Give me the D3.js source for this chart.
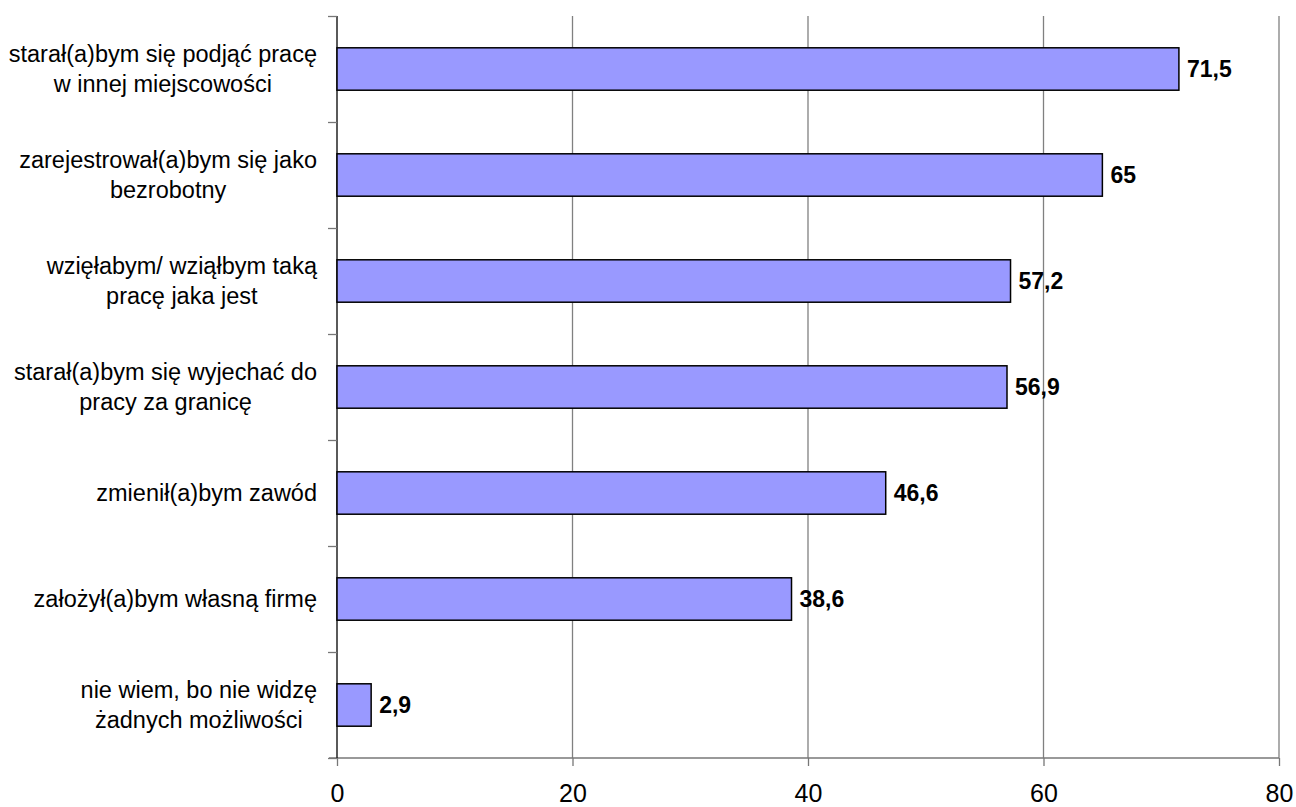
<!DOCTYPE html>
<html>
<head>
<meta charset="utf-8">
<script src="https://cdn.jsdelivr.net/npm/d3@7"></script>
<style>
  html, body { margin: 0; padding: 0; background: #fff; }
  svg { display: block; }
  text { font-family: "Liberation Sans", Arial, sans-serif; }
</style>
</head>
<body>
<svg id="chart" width="1296" height="807"></svg>
<script>
const categories = [
  ["starał(a)bym się podjąć pracę", "w innej miejscowości"],
  ["zarejestrował(a)bym się jako", "bezrobotny"],
  ["wzięłabym/ wziąłbym taką", "pracę jaka jest"],
  ["starał(a)bym się wyjechać do", "pracy za granicę"],
  ["zmienił(a)bym zawód"],
  ["założył(a)bym własną firmę"],
  ["nie wiem, bo nie widzę", "żadnych możliwości"]
];
const values = [71.5, 65, 57.2, 56.9, 46.6, 38.6, 2.9];
const valueLabels = ["71,5", "65", "57,2", "56,9", "46,6", "38,6", "2,9"];
const xTicks = [0, 20, 40, 60, 80];

const svg = d3.select("#chart");
const mLeft = 337, mRight = 1279, mTop = 16, mBottom = 758;
const fontSize = 23.5;

const x = d3.scaleLinear().domain([0, 80]).range([mLeft, mRight]);
const idx = d3.range(categories.length);
const y = d3.scaleBand().domain(idx).range([mTop, mBottom]).paddingInner(0.6).paddingOuter(0.3);
const yEdge = d3.scaleLinear().domain([0, categories.length]).range([mTop, mBottom]);

// gridlines
svg.append("g").selectAll("line").data(xTicks.filter(d => d > 0)).join("line")
  .attr("x1", d => x(d)).attr("x2", d => x(d))
  .attr("y1", mTop).attr("y2", mBottom)
  .attr("stroke", "#808080").attr("stroke-width", 1.3);

// bottom axis
const xAxis = d3.axisBottom(x).tickValues(xTicks).tickSize(8).tickFormat(d => d);
const gx = svg.append("g").attr("transform", `translate(0,${mBottom})`).call(xAxis);
gx.select(".domain").remove();
gx.selectAll(".tick line").attr("stroke", "#777").attr("stroke-width", 1.3);
gx.selectAll(".tick text").attr("font-size", 25).attr("fill", "#000")
  .attr("font-family", "Liberation Sans, Arial, sans-serif")
  .attr("y", 44).attr("dy", 0);
svg.append("line").attr("x1", mLeft - 8).attr("x2", mRight)
  .attr("y1", mBottom).attr("y2", mBottom).attr("stroke", "#777").attr("stroke-width", 1.3);

// left axis with ticks at category boundaries
const yAxis = d3.axisLeft(yEdge).tickValues(d3.range(categories.length + 1)).tickSize(9).tickFormat("");
const gy = svg.append("g").attr("transform", `translate(${mLeft},0)`).call(yAxis);
gy.select(".domain").attr("stroke", "#000").attr("stroke-width", 1.3).attr("d", `M0,${mTop}V${mBottom}`);
gy.selectAll(".tick line").attr("stroke", "#777").attr("stroke-width", 1.3);

// bars
svg.append("g").selectAll("rect").data(values).join("rect")
  .attr("x", x(0))
  .attr("y", (d, i) => y(i))
  .attr("width", d => x(d) - x(0))
  .attr("height", y.bandwidth())
  .attr("fill", "#9999FF")
  .attr("stroke", "#000")
  .attr("stroke-width", 1.5);

// value labels
svg.append("g").selectAll("text").data(values).join("text")
  .attr("x", d => x(d) + 8)
  .attr("y", (d, i) => y(i) + y.bandwidth() / 2)
  .attr("dy", "0.35em")
  .attr("font-size", 23)
  .attr("font-weight", "bold")
  .text((d, i) => valueLabels[i]);

// category labels
const labelRight = 317;
const lineH = 30;
const gl = svg.append("g");
categories.forEach((lines, i) => {
  const cy = y(i) + y.bandwidth() / 2;
  const t = gl.append("text").attr("font-size", fontSize).attr("text-anchor", "middle");
  const n = lines.length;
  const spans = lines.map((ln, k) => t.append("tspan")
    .attr("y", cy + (k - (n - 1) / 2) * lineH)
    .attr("dy", "0.35em")
    .text(ln));
  const maxW = d3.max(spans, s => s.node().getComputedTextLength());
  spans.forEach(s => s.attr("x", labelRight - maxW / 2));
});
</script>
</body>
</html>
